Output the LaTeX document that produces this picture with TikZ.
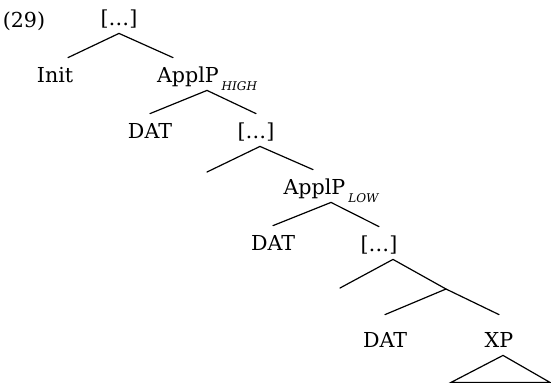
\documentclass[tikz,border=0pt]{standalone}
\usepackage{tikz}
\usepackage{fontspec}
\setmainfont{DejaVu Serif}
\tikzstyle{branch} = [line width=0.6pt, line cap=round]
\newcommand{\applsub}[1]{\kern1.5pt\raisebox{-4pt}{\fontsize{6}{7}\selectfont\itshape #1}}

\begin{document}
\begin{tikzpicture}[x=0.5pt, y=-0.5pt, every node/.style={anchor=base, inner sep=0pt, text height=12pt, text depth=4pt, font=\fontsize{10.3}{12}\selectfont}]
        \useasboundingbox (0,0) rectangle (551,382);
        % Node positions
        \node (ex) at (24,27) {(29)};
        \node (top) at (119,25) {[\ldots]};
        \node (init) at (55,82) {Init};
        \node (applhigh) at (207,82) {ApplP\applsub{HIGH}};
        \node (dat1) at (150,138) {DAT};
        \node (dots2) at (256,138) {[\ldots]};
        \coordinate (dangle1) at (207,172);
        \node (appllow) at (331,194) {ApplP\applsub{LOW}};
        \node (dat2) at (273,250) {DAT};
        \node (dots3) at (379,251) {[\ldots]};
        \coordinate (dangle2) at (340,288);
        \coordinate (mid) at (446,289);
        \node[text height=16pt] (dat3) at (385,347) {DAT};
        \node[text height=16pt] (xp) at (499,347) {XP};

        % Branches
        \draw[branch] (top.south) -- ([xshift=6.5pt]init.north);
        \draw[branch] (top.south) -- ([xshift=-17pt]applhigh.north);
        \draw[branch] (applhigh.south) -- (dat1.north);
        \draw[branch] (applhigh.south) -- (dots2.north);
        \draw[branch] ([xshift=2pt]dots2.south) -- (dangle1);
        \draw[branch] ([xshift=2pt]dots2.south) -- ([xshift=-9pt]appllow.north);
        \draw[branch] (appllow.south) -- (dat2.north);
        \draw[branch] (appllow.south) -- (dots3.north);
        \draw[branch] ([xshift=7pt]dots3.south) -- (dangle2);
        \draw[branch] ([xshift=7pt]dots3.south) -- (mid) -- (xp.north);
        \draw[branch] (mid) -- (dat3.north);

        % Triangle under XP
        \draw[branch] ([xshift=2pt]xp.south) -- ++(-52,27) -- ++(99,0) -- cycle;
      \end{tikzpicture}
\end{document}
